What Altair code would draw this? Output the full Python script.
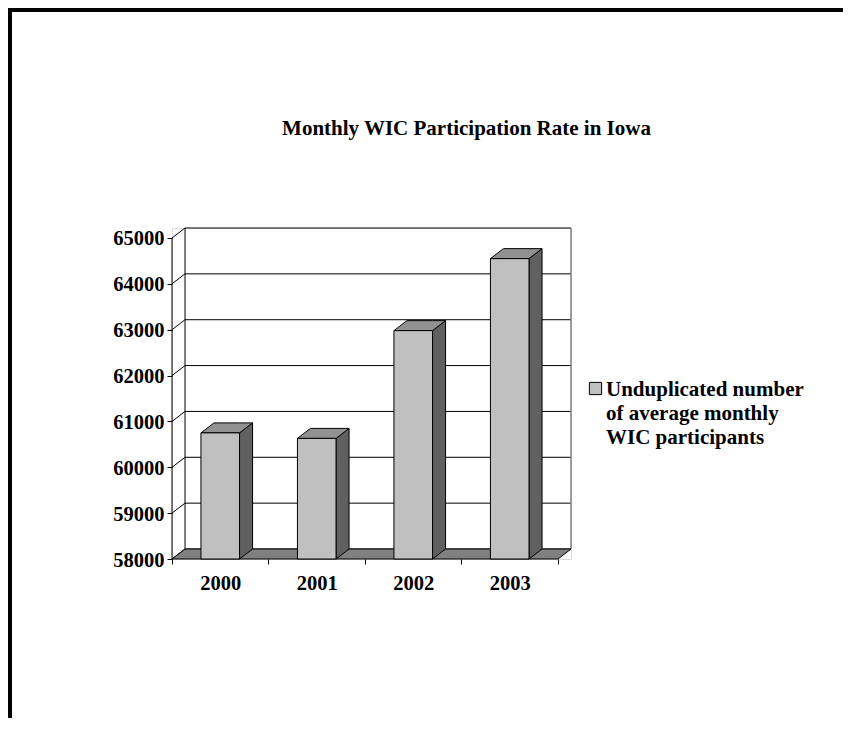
import json
import altair as alt
import pandas as pd

# ---------------- data ----------------
YEARS = ["2000", "2001", "2002", "2003"]
VALUES = [60750, 60630, 62980, 64550]
Y_TICKS = [58000, 59000, 60000, 61000, 62000, 63000, 64000, 65000]
TITLE = "Monthly WIC Participation Rate in Iowa"
LEGEND_LINES = ["Unduplicated number", "of average monthly", "WIC participants"]
SERIES = " ".join(LEGEND_LINES)

# ---------------- style constants ----------------
BASE = Y_TICKS[0]
TOP = Y_TICKS[-1]
N = len(YEARS)
DX = 0.135      # depth (category units)
DY = 218        # depth (value units)
HALF = 0.2      # half bar width (category units)
FRONT = "#c0c0c0"
SIDE = "#606060"
TOPC = "#919191"
FLOOR = "#808080"
FONT = "Liberation Serif"
LABEL_DY = -10  # shift applied to guide labels (compensated on the axes)

W, H = 399, 331
PAD = {"left": 164, "top": 220, "right": 272, "bottom": 159}
TOTAL_W = PAD["left"] + W + PAD["right"]
TOTAL_H = PAD["top"] + H + PAD["bottom"]

# ---------------- tables ----------------
front = pd.DataFrame({
    "year": YEARS,
    "x": [i + 0.5 - HALF for i in range(N)],
    "x2": [i + 0.5 + HALF for i in range(N)],
    "y": [BASE] * N,
    "y2": VALUES,
    "series": [SERIES] * N,
})

top_rows, side_rows = [], []
for i, (yr, v) in enumerate(zip(YEARS, VALUES)):
    x0, x1 = i + 0.5 - HALF, i + 0.5 + HALF
    top_rows += [
        {"year": yr, "x": x0, "y": v, "y2": v},
        {"year": yr, "x": x0 + DX, "y": v, "y2": v + DY},
        {"year": yr, "x": x1, "y": v, "y2": v + DY},
        {"year": yr, "x": x1 + DX, "y": v + DY, "y2": v + DY},
    ]
    side_rows += [
        {"year": yr, "x": x1, "y": BASE, "y2": v},
        {"year": yr, "x": x1 + DX, "y": BASE + DY, "y2": v + DY},
    ]
tops = pd.DataFrame(top_rows)
sides = pd.DataFrame(side_rows)

floor = pd.DataFrame({
    "x": [0, DX, N, N + DX],
    "y": [BASE, BASE, BASE, BASE + DY],
    "y2": [BASE, BASE + DY, BASE + DY, BASE + DY],
})

grid = pd.DataFrame({"x": [DX] * len(Y_TICKS), "x2": [N + DX] * len(Y_TICKS),
                     "y": [g + DY for g in Y_TICKS]})
diag = pd.DataFrame({"x": [0] * len(Y_TICKS), "x2": [DX] * len(Y_TICKS),
                     "y": Y_TICKS, "y2": [g + DY for g in Y_TICKS]})
walls = pd.DataFrame({"x": [0, DX], "y": [BASE, BASE + DY], "y2": [TOP, TOP + DY]})
right_edge = pd.DataFrame({"x": [N + DX], "y": [BASE + DY], "y2": [TOP + DY]})

# ---------------- scales / axes ----------------
xs = alt.Scale(domain=[0, N + DX], nice=False, zero=False)
ys = alt.Scale(domain=[BASE, TOP + DY], nice=False, zero=False)

label_expr = ("(datum.value % 1 === 0.5) ? " + json.dumps(YEARS) +
              "[floor(datum.value)] : ''")
x_axis = alt.Axis(
    values=[k * 0.5 for k in range(2 * N + 1)],
    labelExpr=label_expr,
    tickOpacity={"condition": {"test": "datum.value % 1 === 0", "value": 1}, "value": 0},
    domain=False, grid=False, tickSize=5, tickColor="black", tickWidth=1,
    labelFont=FONT, labelFontWeight="bold", labelFontSize=20.5, labelColor="black",
    labelPadding=9 - LABEL_DY, labelFlush=False, labelOverlap=False, title=None,
)
y_axis = alt.Axis(
    values=Y_TICKS, format="d", domain=False, grid=False, tickSize=5,
    tickColor="black", tickWidth=1,
    labelFont=FONT, labelFontWeight="bold", labelFontSize=20.5, labelColor="black",
    labelPadding=3, labelOffset=1 - LABEL_DY, labelFlush=False, labelOverlap=False,
    title=None,
)

X = lambda: alt.X("x:Q", scale=xs, axis=x_axis)
Y = lambda: alt.Y("y:Q", scale=ys, axis=y_axis)

# ---------------- layers ----------------
grid_l = alt.Chart(grid).mark_rule(color="black", strokeWidth=1).encode(
    x=X(), x2="x2:Q", y=Y())
diag_l = alt.Chart(diag).mark_rule(color="black", strokeWidth=1).encode(
    x=X(), x2="x2:Q", y=Y(), y2="y2:Q")
walls_l = alt.Chart(walls).mark_rule(color="black", strokeWidth=1).encode(
    x=X(), y=Y(), y2="y2:Q")
redge_l = alt.Chart(right_edge).mark_rule(color="#808080", strokeWidth=1.5).encode(
    x=X(), y=Y(), y2="y2:Q")
floor_l = alt.Chart(floor).mark_area(fill=FLOOR, stroke="black", strokeWidth=1,
                                     opacity=1).encode(x=X(), y=Y(), y2="y2:Q")
side_l = alt.Chart(sides).mark_area(fill=SIDE, stroke="black", strokeWidth=1,
                                    opacity=1).encode(
    x=X(), y=Y(), y2="y2:Q", detail="year:N")
top_l = alt.Chart(tops).mark_area(fill=TOPC, stroke="black", strokeWidth=1,
                                  opacity=1).encode(
    x=X(), y=Y(), y2="y2:Q", detail="year:N")
front_l = alt.Chart(front).mark_rect(stroke="black", strokeWidth=1, opacity=1).encode(
    x=X(), x2="x2:Q", y=Y(), y2="y2:Q",
    color=alt.Color(
        "series:N",
        scale=alt.Scale(domain=[SERIES], range=[FRONT]),
        legend=alt.Legend(
            orient="none", legendX=413, legendY=150, title=None,
            labelExpr=json.dumps(LEGEND_LINES),
            symbolType="square", symbolSize=150, symbolStrokeColor="black",
            symbolStrokeWidth=1, symbolFillColor=FRONT,
            labelFont=FONT, labelFontSize=21, labelFontWeight="bold",
            labelColor="black", labelLimit=400, labelOffset=0, padding=0,
            labelBaseline="top",
        ),
    ),
)

# frame lines (decoration)
border_top = alt.Chart(pd.DataFrame({"k": [0]})).mark_rule(
    color="black", strokeWidth=4).encode(
    x=alt.value(-PAD["left"]), x2=alt.value(TOTAL_W - PAD["left"]),
    y=alt.value(-PAD["top"] + 2))
border_left = alt.Chart(pd.DataFrame({"k": [0]})).mark_rule(
    color="black", strokeWidth=4).encode(
    x=alt.value(-PAD["left"] + 2),
    y=alt.value(-PAD["top"]), y2=alt.value(TOTAL_H - PAD["top"]))

chart = alt.layer(
    grid_l, diag_l, walls_l, redge_l, floor_l, side_l, top_l, front_l,
    border_top, border_left,
).properties(
    width=W, height=H,
    padding=PAD,
    autosize=alt.AutoSizeParams(type="none"),
    title=alt.TitleParams(
        TITLE, font=FONT, fontSize=21, fontWeight="bold", color="black",
        anchor="middle", dx=95, offset=-150, frame="group", baseline="alphabetic",
    ),
).configure_view(strokeWidth=0).configure(
    background="white",
    style={"guide-label": {"lineHeight": 24, "dy": LABEL_DY}},
)

chart.save("out.html", embed_options={"renderer": "svg", "actions": False})
